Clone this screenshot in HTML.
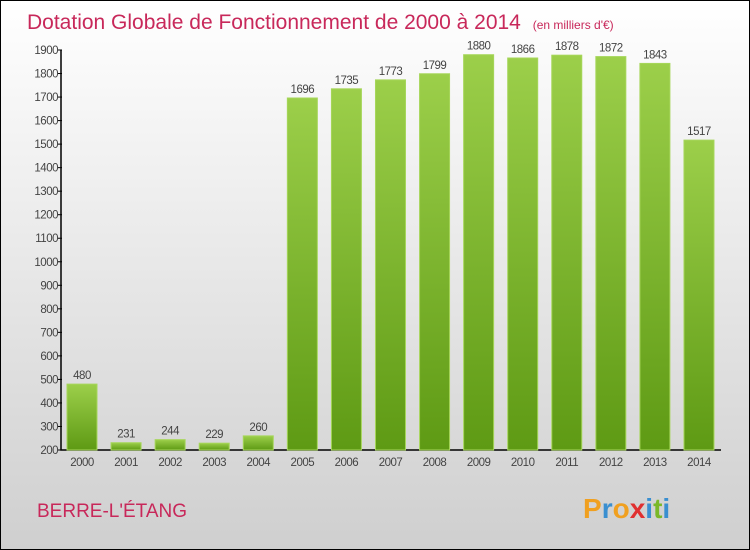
<!DOCTYPE html>
<html><head><meta charset="utf-8"><style>
body{margin:0}
#c{position:relative;width:748px;height:548px;border:1px solid #000;background:linear-gradient(#ffffff,#cfcfcf);font-family:"Liberation Sans",sans-serif;overflow:hidden}
</style></head><body>
<div id="c">
<svg id="s" width="748" height="548">
<defs><linearGradient id="g" x1="0" y1="0" x2="0" y2="1"><stop offset="0" stop-color="#9ccf4a"/><stop offset="1" stop-color="#5e9a14"/></linearGradient></defs>
<text x="26" y="28" font-size="21" fill="#c8285a">Dotation Globale de Fonctionnement de 2000 à 2014 <tspan font-size="12" dx="6">(en milliers d'€)</tspan></text>
<text x="36" y="516" font-size="19" fill="#c8285a">BERRE-L'ÉTANG</text>
<text x="582" y="517" font-size="28" font-weight="bold"><tspan fill="#f0a020">P</tspan><tspan fill="#3a8fd0">r</tspan><tspan fill="#f0a020">o</tspan><tspan fill="#e03030">x</tspan><tspan fill="#3a8fd0">i</tspan><tspan fill="#7ab828">t</tspan><tspan fill="#3a8fd0">i</tspan></text>
<g id="plot"></g>
</svg></div>
<script>
const categories=["2000","2001","2002","2003","2004","2005","2006","2007","2008","2009","2010","2011","2012","2013","2014"];
const values=[480,231,244,229,260,1696,1735,1773,1799,1880,1866,1878,1872,1843,1517];
const yTicks=[200,300,400,500,600,700,800,900,1000,1100,1200,1300,1400,1500,1600,1700,1800,1900];
const ns="http://www.w3.org/2000/svg",p=document.getElementById('plot');
const y=v=>449-(v-200)*400/1700, x=i=>66+i*44.07;
function mk(t,a){const e=document.createElementNS(ns,t);for(const k in a)e.setAttribute(k,a[k]);p.appendChild(e);return e;}
const ax=mk('path',{d:'M60 49V449H720',stroke:'#000',fill:'none','stroke-width':1.5});


yTicks.forEach(v=>{
 const l=mk('line',{x1:57,x2:61,y1:y(v),y2:y(v),stroke:'#000'});
 
 
 const t=mk('text',{x:57,y:y(v)+4,'font-size':11.5,'text-anchor':'end',fill:'#444','letter-spacing':'-0.5'});t.textContent=v;
 
 
});
values.forEach((v,i)=>{
 const r=mk('rect',{x:x(i),y:y(v),width:30,height:449-y(v),fill:'url(#g)',stroke:'#a6d65a','stroke-width':1});
 
 
 const t=mk('text',{x:x(i)+15,y:y(v)-5,'font-size':11.5,'text-anchor':'middle',fill:'#444','letter-spacing':'-0.5'});t.textContent=v;
 
 
 const c=mk('text',{x:x(i)+15,y:465,'font-size':11.5,'text-anchor':'middle',fill:'#444','letter-spacing':'-0.5'});c.textContent=categories[i];
 
 
});
</script></body></html>
